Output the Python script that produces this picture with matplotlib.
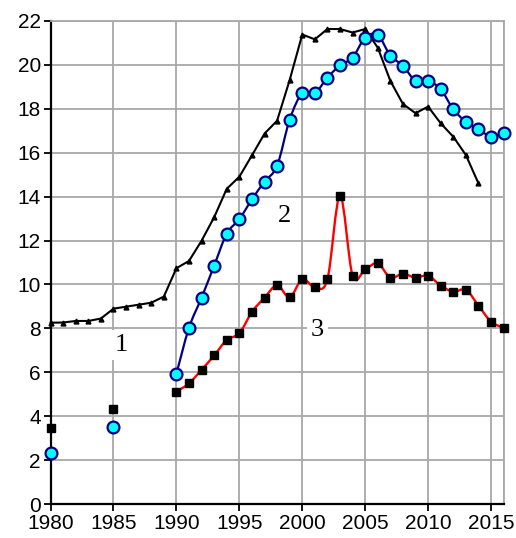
import numpy as np
import matplotlib.pyplot as plt
from matplotlib.path import Path
from matplotlib.patches import PathPatch

# series 1: black line with small triangles
years1 = list(range(1980, 2015))
vals1 = [8.26, 8.27, 8.34, 8.34, 8.45, 8.9, 8.99, 9.08, 9.17, 9.45,
         10.74, 11.07, 11.99, 13.06, 14.35, 14.9, 15.87, 16.86, 17.45, 19.3,
         21.37, 21.15, 21.62, 21.62, 21.46, 21.62, 20.77, 19.26, 18.21, 17.79,
         18.09, 17.33, 16.72, 15.89, 14.6]

# series 2: cyan circles, navy smoothed line from 1990
years2 = [1980, 1985] + list(range(1990, 2017))
vals2 = [2.32, 3.5,
         5.94, 8.03, 9.4, 10.86, 12.31, 12.97, 13.87, 14.68, 15.4, 17.5,
         18.7, 18.7, 19.41, 19.97, 20.32, 21.23, 21.35, 20.41, 19.95, 19.26,
         19.26, 18.88, 17.97, 17.4, 17.07, 16.72, 16.88]

# series 3: black squares, red smoothed line from 1990
years3 = [1980, 1985] + list(range(1990, 2017))
vals3 = [3.49, 4.32,
         5.13, 5.5, 6.12, 6.77, 7.48, 7.78, 8.75, 9.4, 9.96, 9.42,
         10.24, 9.87, 10.24, 14.04, 10.4, 10.69, 10.96, 10.31, 10.49, 10.31,
         10.4, 9.95, 9.67, 9.76, 9.04, 8.31, 8.03]

labels = ["1", "2", "3"]
label_pos = [(1985.65, 7.25), (1998.6, 13.1), (2001.2, 7.95)]


def smooth_path(x, y):
    # Catmull-Rom style smoothing, like a spreadsheet "smoothed line"
    p = np.column_stack([x, y]).astype(float)
    pts = np.vstack([p[0], p, p[-1]])
    verts = [p[0]]
    codes = [Path.MOVETO]
    for i in range(1, len(pts) - 2):
        p0, p1, p2, p3 = pts[i - 1], pts[i], pts[i + 1], pts[i + 2]
        verts += [p1 + (p2 - p0) / 6, p2 - (p3 - p1) / 6, p2]
        codes += [Path.CURVE4] * 3
    return Path(verts, codes)


fig = plt.figure(figsize=(5.16, 5.38), dpi=100)
ax = fig.add_axes([0.098, 0.0626, 0.878, 0.899])

ax.plot(years1, vals1, color='black', lw=1.5, marker='^', ms=3.5, zorder=3,
        clip_on=False)

ax.add_patch(PathPatch(smooth_path(years2[2:], vals2[2:]), fill=False,
                       edgecolor='#000080', lw=1.6, zorder=4))
ax.plot(years2, vals2, ls='none', marker='o', ms=8.5, mfc='#00ffff',
        mec='#000080', mew=1.6, zorder=5, clip_on=False)

ax.add_patch(PathPatch(smooth_path(years3[2:], vals3[2:]), fill=False,
                       edgecolor='red', lw=1.7, zorder=4))
ax.plot(years3, vals3, ls='none', marker='s', ms=6.3, mfc='black',
        mec='black', zorder=5, clip_on=False)

for txt, (tx, ty) in zip(labels, label_pos):
    ax.text(tx, ty, txt, family='Liberation Serif', fontsize=19,
            ha='center', va='center', zorder=2,
            bbox=dict(facecolor='white', edgecolor='none', pad=3))

ax.set_xlim(1980, 2016)
ax.set_ylim(0, 22)
ax.set_xticks(range(1980, 2016, 5))
ax.set_yticks(range(0, 23, 2))
ax.set_xticks([2016], minor=True)
ax.grid(True, which='both', color='#a8a8a8', lw=1.3, zorder=1)
ax.set_axisbelow(True)
ax.tick_params(which='major', labelsize=15, length=5, width=1.3,
               direction='out', pad=2)
ax.tick_params(which='minor', length=0)
for lab in ax.get_xticklabels() + ax.get_yticklabels():
    lab.set_family('Liberation Sans')

for s in ['left', 'bottom']:
    ax.spines[s].set_linewidth(1.6)
    ax.spines[s].set_color('black')
for s in ['top', 'right']:
    ax.spines[s].set_linewidth(1.3)
    ax.spines[s].set_color('#a8a8a8')

fig.savefig('out.png', dpi=100)
